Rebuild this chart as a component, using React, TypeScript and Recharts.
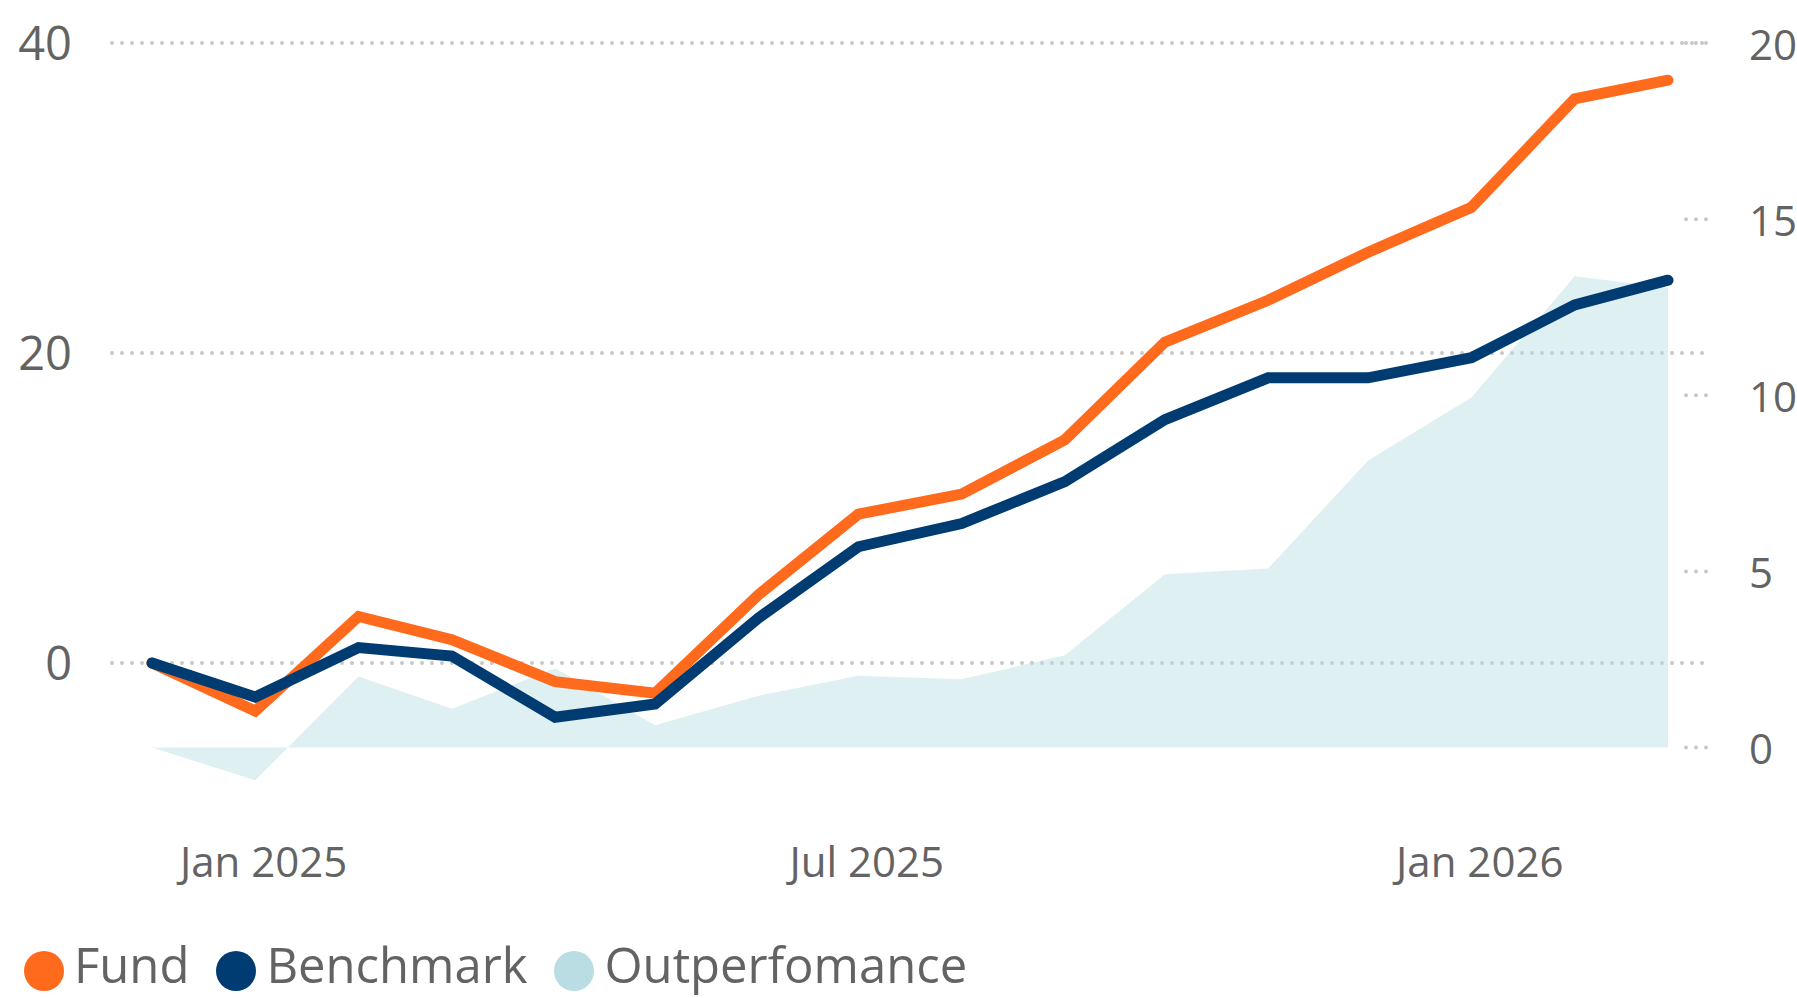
import { ComposedChart, Line, Area, XAxis, YAxis, CartesianGrid, Legend } from 'recharts'

// month-end observations
const dates = [
  '2024-11-30', '2024-12-31', '2025-01-31', '2025-02-28', '2025-03-31', '2025-04-30',
  '2025-05-31', '2025-06-30', '2025-07-31', '2025-08-31', '2025-09-30', '2025-10-31',
  '2025-11-30', '2025-12-31', '2026-01-31', '2026-02-28',
]
const fund = [0, -3.1, 3.0, 1.5, -1.2, -1.95, 4.4, 9.6, 10.9, 14.4, 20.7, 23.4, 26.5, 29.4, 36.4, 37.6]
const benchmark = [0, -2.2, 1.0, 0.45, -3.5, -2.65, 2.9, 7.5, 9.0, 11.7, 15.7, 18.4, 18.4, 19.7, 23.1, 24.7]
const outperformance = [0, -0.93, 2.02, 1.1, 2.25, 0.63, 1.47, 2.04, 1.94, 2.62, 4.92, 5.08, 8.15, 9.94, 13.38, 13.05]

const xTickDates = ['2025-01-01', '2025-07-01', '2026-01-01']
const xTickLabels = ['Jan 2025', 'Jul 2025', 'Jan 2026']
const leftTicks = [0, 20, 40]
const rightTicks = [0, 5, 10, 15, 20]

const seriesNames = ['Fund', 'Benchmark', 'Outperfomance']
const seriesColors = ['#FF6A1C', '#003B71', '#B9DDE3']

const FONT = '"Segoe UI", "Open Sans", sans-serif'
const TEXT = '#636363'
const GRID = '#c8c8c8'

const toTime = (d: string) => {
  const [y, m, day] = d.split('-').map(Number)
  return Date.UTC(y, m - 1, day)
}

const data = dates.map((d, i) => ({
  t: toTime(d),
  fund: fund[i],
  benchmark: benchmark[i],
  outperformance: outperformance[i],
}))

const xTicks = xTickDates.map(toTime)
const labelFor = (t: number) => {
  const i = xTicks.indexOf(t)
  return i >= 0 ? xTickLabels[i] : ''
}

function RightTick(props: any) {
  const { x, y, payload } = props
  return (
    <g>
      <line x1={x - 22} x2={x} y1={y} y2={y} stroke={GRID} strokeWidth={4} strokeDasharray="0 10" strokeLinecap="round" />
      <text x={x + 41} y={y} textAnchor="start" dominantBaseline="central" fill={TEXT} fontSize={42} fontFamily={FONT}>
        {payload.value}
      </text>
    </g>
  )
}

function LegendContent() {
  return (
    <div style={{ height: 62, boxSizing: 'border-box', display: 'flex', alignItems: 'flex-start', paddingLeft: 24, fontFamily: FONT }}>
      {seriesNames.map((name, i) => (
        <div key={name} style={{ display: 'flex', alignItems: 'flex-start', marginRight: 27 }}>
          <svg width={40} height={40} style={{ marginTop: 15, marginRight: 10 }}>
            <circle cx={20} cy={20} r={20} fill={seriesColors[i]} />
          </svg>
          <span style={{ fontSize: 49, color: TEXT, lineHeight: '48px', marginTop: 4 }}>{name}</span>
        </div>
      ))}
    </div>
  )
}

export default function App() {
  return (
    <div style={{ position: 'absolute', left: 0, top: 0, width: 1797, height: 998, background: '#fff' }}>
      <ComposedChart width={1797} height={998} data={data} margin={{ top: 43, right: 0, bottom: 0, left: 0 }}>
        <CartesianGrid
          yAxisId="left"
          vertical={false}
          horizontalValues={leftTicks}
          stroke={GRID}
          strokeWidth={4}
          strokeDasharray="0 10"
          strokeLinecap="round"
        />
        <XAxis
          dataKey="t"
          type="number"
          scale="time"
          domain={['dataMin', 'dataMax']}
          padding={{ left: 40, right: 40 }}
          ticks={xTicks}
          interval={0}
          tickFormatter={labelFor}
          axisLine={false}
          tickLine={false}
          tickSize={0}
          tickMargin={29}
          height={118}
          tick={{ fill: TEXT, fontSize: 42, fontFamily: FONT, dx: 5 }}
        />
        <YAxis
          yAxisId="left"
          orientation="left"
          domain={[-10, 40]}
          ticks={leftTicks}
          width={112}
          axisLine={false}
          tickLine={false}
          tickSize={0}
          tickMargin={40}
          tick={{ fill: TEXT, fontSize: 47, fontFamily: FONT }}
        />
        <YAxis
          yAxisId="right"
          orientation="right"
          domain={[-2, 20]}
          ticks={rightTicks}
          width={89}
          axisLine={false}
          tickLine={false}
          tickSize={0}
          tickMargin={0}
          tick={<RightTick />}
        />
        <Legend verticalAlign="bottom" align="left" content={<LegendContent />} />
        <Area
          yAxisId="right"
          type="linear"
          dataKey="outperformance"
          name={seriesNames[2]}
          stroke="none"
          fill={seriesColors[2]}
          fillOpacity={0.45}
          isAnimationActive={false}
        />
        <Line
          yAxisId="left"
          type="linear"
          dataKey="fund"
          name={seriesNames[0]}
          stroke={seriesColors[0]}
          strokeWidth={11}
          strokeLinecap="round"
          dot={false}
          activeDot={false}
          isAnimationActive={false}
        />
        <Line
          yAxisId="left"
          type="linear"
          dataKey="benchmark"
          name={seriesNames[1]}
          stroke={seriesColors[1]}
          strokeWidth={11}
          strokeLinecap="round"
          dot={false}
          activeDot={false}
          isAnimationActive={false}
        />
      </ComposedChart>
    </div>
  )
}
